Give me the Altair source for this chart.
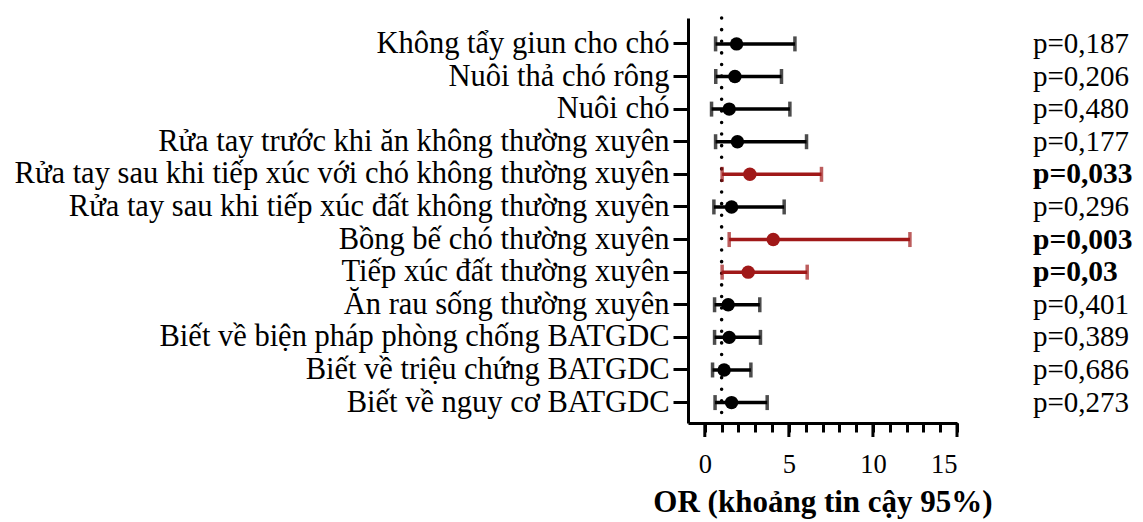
import altair as alt
import pandas as pd

factors = [
    "Không tẩy giun cho chó",
    "Nuôi thả chó rông",
    "Nuôi chó",
    "Rửa tay trước khi ăn không thường xuyên",
    "Rửa tay sau khi tiếp xúc với chó không thường xuyên",
    "Rửa tay sau khi tiếp xúc đất không thường xuyên",
    "Bồng bế chó thường xuyên",
    "Tiếp xúc đất thường xuyên",
    "Ăn rau sống thường xuyên",
    "Biết về biện pháp phòng chống BATGDC",
    "Biết về triệu chứng BATGDC",
    "Biết về nguy cơ BATGDC",
]
or_values = [1.89, 1.79, 1.45, 1.94, 2.68, 1.59, 4.07, 2.58, 1.39, 1.45, 1.15, 1.59]
ci_low = [0.64, 0.65, 0.40, 0.64, 1.03, 0.54, 1.45, 1.03, 0.58, 0.58, 0.46, 0.61]
ci_high = [5.36, 4.56, 5.06, 6.05, 6.94, 4.72, 12.2, 6.09, 3.27, 3.31, 2.74, 3.71]
p_labels = ["p=0,187", "p=0,206", "p=0,480", "p=0,177", "p=0,033", "p=0,296",
            "p=0,003", "p=0,03", "p=0,401", "p=0,389", "p=0,686", "p=0,273"]
significant = [False, False, False, False, True, False, True, True, False, False, False, False]
minor_ticks = list(range(0, 16))
major_ticks = [0, 5, 10, 15]

df = pd.DataFrame({
    "factor": factors,
    "OR": or_values,
    "lo": ci_low,
    "hi": ci_high,
    "p": p_labels,
    "sig": ["yes" if s else "no" for s in significant],
})

FONT = "Liberation Serif"
RED = "#A01818"

color = alt.Color("sig:N", scale=alt.Scale(domain=["no", "yes"], range=["#000000", RED]), legend=None)

yenc = alt.Y(
    "factor:N",
    sort=factors,
    title=None,
    scale=alt.Scale(type="band", paddingInner=0, paddingOuter=0.21, align=0.7),
    axis=alt.Axis(
        labelFont=FONT, labelFontSize=30.5, labelColor="black", labelLimit=0,
        labelPadding=4, tickSize=15, tickWidth=3, tickColor="black",
        domainWidth=3, domainColor="black", grid=False,
    ),
)

xscale = alt.Scale(domain=[-1, 15], nice=False, zero=False)
xaxis = alt.Axis(
    values=minor_ticks,
    labelExpr="datum.value % 5 === 0 ? datum.label : ''",
    labelOverlap=False,
    tickSize=9,
    tickWidth=3, tickColor="black", domainWidth=3, domainColor="black",
    labelFont=FONT, labelFontSize=26.5, labelColor="black", labelPadding=19,
    title="OR (khoảng tin cậy 95%)", titleFont=FONT, titleFontSize=31,
    titleFontWeight="bold", titleColor="black", titlePadding=10, grid=False,
)

base = alt.Chart(df)

ref = alt.Chart(pd.DataFrame({"v": [1]})).mark_rule(
    color="black", strokeWidth=3.5, strokeDash=[0.1, 11.5], strokeCap="round"
).encode(x=alt.X("v:Q", scale=xscale, axis=xaxis))

major = alt.Chart(pd.DataFrame({"t": major_ticks})).mark_rule(
    color="black", strokeWidth=3
).encode(
    x=alt.X("t:Q", scale=xscale, axis=xaxis),
    y=alt.value(405), y2=alt.value(419),
)

bars = base.mark_rule(strokeWidth=3.5).encode(
    x=alt.X("lo:Q", scale=xscale, axis=xaxis), x2="hi:Q", y=yenc, color=color
)
cap_lo = base.mark_tick(thickness=3.5, size=15).encode(
    x=alt.X("lo:Q", scale=xscale, axis=xaxis), y=yenc, color=color
)
cap_hi = base.mark_tick(thickness=3.5, size=15).encode(
    x=alt.X("hi:Q", scale=xscale, axis=xaxis), y=yenc, color=color
)
pts = base.mark_circle(size=180, opacity=1).encode(
    x=alt.X("OR:Q", scale=xscale, axis=xaxis), y=yenc, color=color
)
ptxt = base.mark_text(align="left", baseline="middle", font=FONT, fontSize=29, color="black").encode(
    x=alt.value(345), y=yenc, text="p:N"
).transform_filter("datum.sig === 'no'")
ptxt_b = base.mark_text(align="left", baseline="middle", font=FONT, fontSize=29.5, fontWeight="bold", color="black").encode(
    x=alt.value(345), y=yenc, text="p:N"
).transform_filter("datum.sig === 'yes'")

chart = alt.layer(ref, major, bars, cap_lo, cap_hi, pts, ptxt, ptxt_b).properties(
    width=269, height=405,
    padding={"left": 680, "top": 10, "right": 178, "bottom": 99},
    autosize=alt.AutoSizeParams(type="none"),
    background="white",
    view=alt.ViewBackground(stroke="transparent", strokeWidth=0),
)

chart.save("out.html", embed_options={"renderer": "svg", "actions": False})
